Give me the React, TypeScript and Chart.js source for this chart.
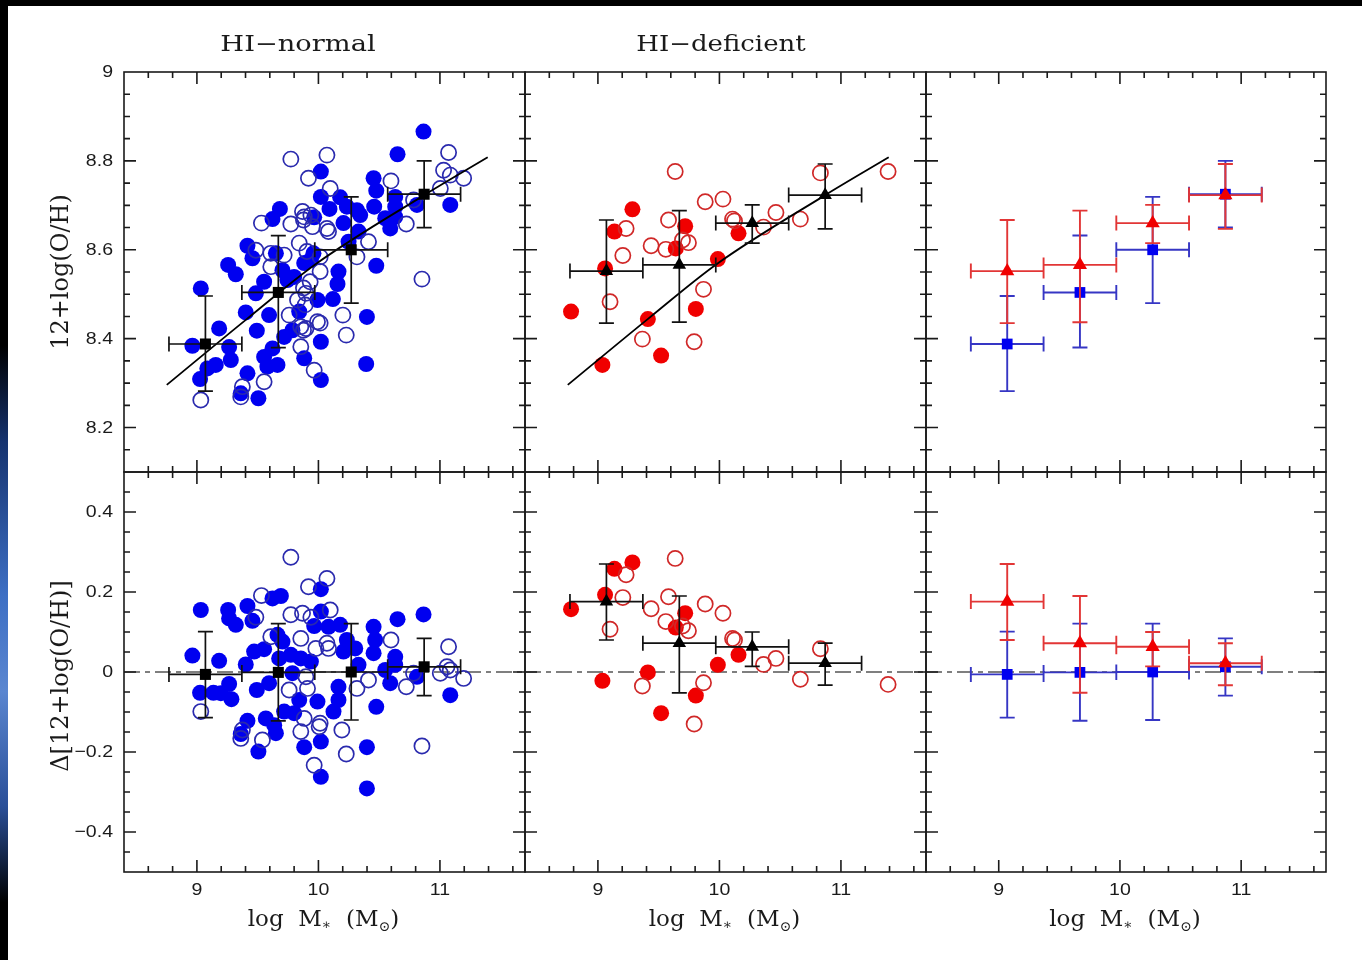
import React, { useEffect, useRef } from "react";
import { Chart, registerables } from "chart.js";

Chart.register(...registerables);

// ---------- page layout ----------
const PAGE_W = 1362;
const PAGE_H = 960;
const COL_EDGES = [124, 525, 926, 1326];
const ROW_EDGES = [72, 472, 872];

// ---------- axes ----------
const X_MIN = 8.4;
const X_MAX = 11.7;
const TOP_Y_MIN = 8.1;
const TOP_Y_MAX = 9.0;
const BOT_Y_MIN = -0.5;
const BOT_Y_MAX = 0.5;

const xTickValues = [9, 10, 11];
const xTickLabels = ["9", "10", "11"];
const topYTickValues = [8.2, 8.4, 8.6, 8.8, 9];
const topYTickLabels = ["8.2", "8.4", "8.6", "8.8", "9"];
const botYTickValues = [-0.4, -0.2, 0, 0.2, 0.4];
const botYTickLabels = ["−0.4", "−0.2", "0", "0.2", "0.4"];
const columnTitles = ["HI−normal", "HI−deficient"];
const topYTitle = "12+log(O/H)";
const botYTitle = "Δ[12+log(O/H)]";

// ---------- fit curve and zero line ----------
const fitX = [8.752, 9.41, 9.979, 10.871, 11.393];
const fitY = [8.296, 8.444, 8.568, 8.723, 8.808];
const zeroLineX = [8.4, 11.7];
const zeroLineY = [0, 0];

// ---------- binned means ----------
const binX = [9.07, 9.67, 10.27, 10.87];
const binXLo = [8.77, 9.37, 9.97, 10.57];
const binXHi = [9.37, 9.97, 10.57, 11.17];

const normalMeanTop = [8.388, 8.504, 8.6, 8.725];
const normalTopLo = [8.282, 8.38, 8.48, 8.65];
const normalTopHi = [8.496, 8.632, 8.719, 8.8];
const deficientMeanTop = [8.552, 8.566, 8.66, 8.723];
const deficientTopLo = [8.435, 8.437, 8.615, 8.647];
const deficientTopHi = [8.667, 8.688, 8.701, 8.793];

const normalMeanRes = [-0.006, -0.001, 0.0, 0.013];
const normalResLo = [-0.114, -0.122, -0.12, -0.059];
const normalResHi = [0.101, 0.121, 0.121, 0.084];
const deficientMeanRes = [0.176, 0.072, 0.063, 0.022];
const deficientResLo = [0.08, -0.052, 0.014, -0.033];
const deficientResHi = [0.27, 0.19, 0.1, 0.072];

// ---------- HI-normal galaxies (top) ----------
const normalFilledX = [
  10.02, 10.02, 9.683, 9.622, 9.965, 9.416, 9.457, 9.257, 9.32, 9.65, 9.704, 9.883, 9.938, 9.8, 9.745,
  9.553, 9.485, 9.032, 9.992, 9.402, 9.594, 9.842, 9.183, 9.493, 9.786, 9.718, 10.02, 8.963, 9.265, 9.086,
  9.155, 9.279, 9.622, 9.553, 9.58, 9.663, 9.883, 10.02, 9.026, 9.416, 9.361, 9.506, 10.865, 10.651, 10.454,
  10.476, 10.179, 10.091, 10.234, 10.317, 10.344, 10.459, 10.632, 10.632, 10.811, 11.085, 10.206, 10.55, 10.632, 10.591,
  10.33, 10.248, 9.959, 10.476, 10.165, 10.157, 10.119, 10.399, 10.393,
];
const normalFilledY = [
  8.776, 8.719, 8.692, 8.669, 8.673, 8.609, 8.581, 8.566, 8.545, 8.592, 8.554, 8.57, 8.577, 8.539, 8.532,
  8.528, 8.502, 8.513, 8.487, 8.459, 8.453, 8.461, 8.423, 8.418, 8.419, 8.404, 8.393, 8.384, 8.381, 8.333,
  8.341, 8.352, 8.378, 8.359, 8.337, 8.341, 8.356, 8.307, 8.309, 8.322, 8.277, 8.266, 8.866, 8.815, 8.761,
  8.733, 8.718, 8.692, 8.697, 8.689, 8.678, 8.697, 8.719, 8.697, 8.701, 8.701, 8.66, 8.671, 8.674, 8.648,
  8.641, 8.618, 8.592, 8.564, 8.551, 8.523, 8.489, 8.449, 8.343,
];
const normalOpenX = [
  9.773, 9.918, 9.531, 9.773, 9.883, 9.951, 9.842, 9.485, 9.608, 9.718, 9.608, 9.897, 9.828, 9.759, 9.855,
  9.897, 9.992, 9.855, 9.965, 9.553, 9.032, 9.374, 9.361, 9.869, 9.938, 9.877, 11.071, 10.07, 10.597, 11.03,
  11.085, 11.195, 11.003, 10.097, 10.783, 10.07, 10.083, 10.723, 10.412, 9.905, 10.014, 10.317, 10.014, 9.932, 9.877,
  10.852, 9.891, 10.201, 10.014, 10.229, 9.877,
];
const normalOpenY = [
  8.804, 8.761, 8.66, 8.658, 8.674, 8.652, 8.615, 8.599, 8.592, 8.588, 8.562, 8.502, 8.487, 8.453, 8.427,
  8.423, 8.438, 8.382, 8.329, 8.303, 8.262, 8.292, 8.269, 8.686, 8.678, 8.667, 8.819, 8.813, 8.755, 8.779,
  8.768, 8.761, 8.738, 8.738, 8.712, 8.648, 8.641, 8.658, 8.618, 8.596, 8.584, 8.584, 8.551, 8.528, 8.514,
  8.534, 8.476, 8.453, 8.435, 8.408, 8.419,
];

// ---------- HI-normal galaxies (residuals) ----------
const normalFilledResX = [
  10.02, 9.622, 9.691, 9.032, 9.257, 9.416, 9.265, 9.32, 9.457, 10.02, 9.965, 9.663, 9.704, 9.471, 9.553,
  8.963, 9.183, 9.402, 9.677, 9.773, 9.855, 9.938, 9.786, 9.026, 9.136, 9.197, 9.265, 9.284, 9.493, 9.594,
  9.842, 9.992, 9.416, 9.567, 9.636, 9.65, 9.718, 9.8, 9.361, 9.506, 9.883, 10.02, 10.02, 10.083, 10.179,
  10.454, 10.651, 10.865, 10.234, 10.303, 10.206, 10.467, 10.454, 10.33, 10.55, 10.632, 10.632, 10.811, 11.085, 10.591,
  10.165, 10.165, 10.124, 10.476, 10.399, 10.399,
];
const normalFilledResY = [
  0.207, 0.184, 0.19, 0.155, 0.155, 0.165, 0.134, 0.118, 0.128, 0.151, 0.115, 0.093, 0.076, 0.051, 0.057,
  0.041, 0.028, 0.019, 0.034, 0.043, 0.034, 0.026, -0.003, -0.052, -0.052, -0.053, -0.03, -0.068, -0.045, -0.028,
  -0.07, -0.074, -0.122, -0.116, -0.133, -0.153, -0.099, -0.103, -0.155, -0.199, -0.188, -0.174, -0.262, 0.113, 0.118,
  0.113, 0.132, 0.144, 0.08, 0.059, 0.051, 0.08, 0.047, 0.018, 0.005, 0.038, 0.018, -0.012, -0.058, -0.028,
  -0.037, -0.07, -0.099, -0.087, -0.188, -0.291,
];
const normalOpenResX = [
  9.773, 9.918, 9.531, 9.485, 9.773, 9.869, 9.938, 9.608, 9.855, 9.979, 9.897, 9.759, 9.91, 9.032, 9.883,
  9.374, 9.361, 9.539, 9.855, 10.006, 9.965, 10.07, 10.097, 10.07, 10.083, 10.597, 11.071, 10.783, 11.003, 11.058,
  11.085, 11.195, 10.412, 10.723, 10.317, 10.014, 10.193, 10.852, 10.229,
];
const normalOpenResY = [
  0.287, 0.213, 0.191, 0.137, 0.143, 0.147, 0.137, 0.088, 0.084, 0.059, -0.012, -0.045, -0.041, -0.099, -0.116,
  -0.145, -0.166, -0.17, -0.149, -0.137, -0.233, 0.234, 0.155, 0.072, 0.059, 0.08, 0.063, -0.003, -0.003, 0.013,
  0.005, -0.016, -0.02, -0.037, -0.041, -0.128, -0.145, -0.185, -0.205,
];

// ---------- HI-deficient galaxies (top) ----------
const deficientFilledX = [8.779, 9.037, 9.059, 9.136, 9.284, 9.411, 9.52, 9.641, 9.718, 9.806, 9.987, 10.157];
const deficientFilledY = [8.461, 8.341, 8.558, 8.641, 8.691, 8.444, 8.362, 8.603, 8.653, 8.467, 8.579, 8.637];
const deficientOpenX = [
  9.636, 9.232, 9.205, 9.1, 9.438, 9.559, 9.581, 9.696, 9.745, 9.883, 10.029, 9.869, 9.366, 9.792, 10.108,
  10.124, 10.363, 10.465, 10.666, 10.831, 11.388,
];
const deficientOpenY = [
  8.776, 8.648, 8.587, 8.483, 8.609, 8.601, 8.667, 8.622, 8.616, 8.708, 8.714, 8.511, 8.399, 8.393, 8.669,
  8.665, 8.651, 8.684, 8.669, 8.773, 8.776,
];

// ---------- HI-deficient galaxies (residuals) ----------
const deficientFilledResX = [8.779, 9.037, 9.059, 9.136, 9.284, 9.411, 9.52, 9.641, 9.718, 9.806, 9.987, 10.157];
const deficientFilledResY = [0.157, -0.022, 0.193, 0.258, 0.274, -0.001, -0.103, 0.111, 0.147, -0.059, 0.018, 0.043];
const deficientOpenResX = [
  9.636, 9.232, 9.205, 9.1, 9.438, 9.559, 9.581, 9.696, 9.745, 9.883, 10.029, 9.869, 9.366, 9.792, 10.108,
  10.124, 10.363, 10.465, 10.666, 10.831, 11.388,
];
const deficientOpenResY = [
  0.284, 0.243, 0.186, 0.107, 0.158, 0.126, 0.188, 0.115, 0.103, 0.17, 0.147, -0.027, -0.035, -0.13, 0.084,
  0.08, 0.019, 0.034, -0.018, 0.058, -0.031,
];

// ---------- styles ----------
const BLUE_FILL = "#0000f0";
const BLUE_OPEN = "#2a2aae";
const RED_FILL = "#f00000";
const RED_OPEN = "#d02828";
const BLUE_BAR = "#3636c4";
const RED_BAR = "#e23636";
const INK = "#1a1a1a";
const SANS = "'Liberation Sans', Arial, Helvetica, sans-serif";
const SERIF = "'DejaVu Serif', 'Liberation Serif', serif";

const pts = (xs: number[], ys: number[]) => xs.map((x, i) => ({ x, y: ys[i] }));

function filledDs(xs: number[], ys: number[], color: string) {
  return {
    data: pts(xs, ys),
    pointRadius: 8,
    pointBackgroundColor: color,
    pointBorderColor: color,
    pointBorderWidth: 0,
    order: 4,
  };
}
function openDs(xs: number[], ys: number[], color: string) {
  return {
    data: pts(xs, ys),
    pointRadius: 7.6,
    pointBackgroundColor: "rgba(0,0,0,0)",
    pointBorderColor: color,
    pointBorderWidth: 1.7,
    order: 3,
  };
}
function lineDs(xs: number[], ys: number[], color: string, dash: number[] | null, order: number, width: number) {
  return {
    data: pts(xs, ys),
    showLine: true,
    pointRadius: 0,
    borderColor: color,
    borderWidth: width,
    borderDash: dash || [],
    cubicInterpolationMode: "monotone",
    fill: false,
    order,
  };
}
function meanDs(
  ys: number[], lo: number[], hi: number[], style: string, color: string, barColor: string,
  barWidth: number, radius: number, order: number
) {
  return {
    data: pts(binX, ys),
    pointStyle: style,
    pointRadius: radius,
    pointBackgroundColor: color,
    pointBorderColor: color,
    pointBorderWidth: 0,
    order,
    errorBars: { x: binX, y: ys, xLo: binXLo, xHi: binXHi, yLo: lo, yHi: hi, color: barColor, width: barWidth },
  };
}

function panelDatasets(col: number, row: number): any[] {
  if (row === 0) {
    if (col === 0)
      return [
        filledDs(normalFilledX, normalFilledY, BLUE_FILL),
        openDs(normalOpenX, normalOpenY, BLUE_OPEN),
        lineDs(fitX, fitY, "#000", null, 2, 1.8),
        meanDs(normalMeanTop, normalTopLo, normalTopHi, "rect", "#000", "#111", 1.7, 7.8, 0),
      ];
    if (col === 1)
      return [
        filledDs(deficientFilledX, deficientFilledY, RED_FILL),
        openDs(deficientOpenX, deficientOpenY, RED_OPEN),
        lineDs(fitX, fitY, "#000", null, 2, 1.8),
        meanDs(deficientMeanTop, deficientTopLo, deficientTopHi, "triangle", "#000", "#111", 1.7, 7.8, 0),
      ];
    return [
      meanDs(normalMeanTop, normalTopLo, normalTopHi, "rect", BLUE_FILL, BLUE_BAR, 1.9, 7.6, 1),
      meanDs(deficientMeanTop, deficientTopLo, deficientTopHi, "triangle", RED_FILL, RED_BAR, 1.9, 8.2, 0),
    ];
  }
  const zero = lineDs(zeroLineX, zeroLineY, "#555", [16, 5, 5, 5], 5, 1.6);
  if (col === 0)
    return [
      zero,
      filledDs(normalFilledResX, normalFilledResY, BLUE_FILL),
      openDs(normalOpenResX, normalOpenResY, BLUE_OPEN),
      meanDs(normalMeanRes, normalResLo, normalResHi, "rect", "#000", "#111", 1.7, 7.8, 0),
    ];
  if (col === 1)
    return [
      zero,
      filledDs(deficientFilledResX, deficientFilledResY, RED_FILL),
      openDs(deficientOpenResX, deficientOpenResY, RED_OPEN),
      meanDs(deficientMeanRes, deficientResLo, deficientResHi, "triangle", "#000", "#111", 1.7, 7.8, 0),
    ];
  return [
    zero,
    meanDs(normalMeanRes, normalResLo, normalResHi, "rect", BLUE_FILL, BLUE_BAR, 1.9, 7.6, 1),
    meanDs(deficientMeanRes, deficientResLo, deficientResHi, "triangle", RED_FILL, RED_BAR, 1.9, 8.2, 0),
  ];
}

// ---------- drawing helpers ----------
function stretchText(
  ctx: CanvasRenderingContext2D, text: string, x: number, y: number,
  align: CanvasTextAlign, font: string, sx: number
) {
  ctx.save();
  ctx.font = font;
  ctx.fillStyle = INK;
  ctx.textAlign = align;
  ctx.textBaseline = "middle";
  ctx.translate(x, y);
  ctx.scale(sx, 1);
  ctx.fillText(text, 0, 0);
  ctx.restore();
}

function stepValues(min: number, max: number, step: number) {
  const out: number[] = [];
  const i0 = Math.ceil(min / step - 1e-9);
  const i1 = Math.floor(max / step + 1e-9);
  for (let i = i0; i <= i1; i++) out.push(Math.round(i * step * 1e6) / 1e6);
  return out;
}
const isMultiple = (v: number, step: number) => Math.abs(v / step - Math.round(v / step)) < 1e-6;

function drawErrorBars(chart: any, eb: any) {
  const { ctx } = chart;
  const xs = chart.scales.x;
  const ys = chart.scales.y;
  const cap = 7.5;
  ctx.save();
  ctx.strokeStyle = eb.color;
  ctx.lineWidth = eb.width;
  ctx.beginPath();
  for (let i = 0; i < eb.x.length; i++) {
    const px = xs.getPixelForValue(eb.x[i]);
    const py = ys.getPixelForValue(eb.y[i]);
    const pLo = ys.getPixelForValue(eb.yLo[i]);
    const pHi = ys.getPixelForValue(eb.yHi[i]);
    const qLo = xs.getPixelForValue(eb.xLo[i]);
    const qHi = xs.getPixelForValue(eb.xHi[i]);
    ctx.moveTo(px, pLo); ctx.lineTo(px, pHi);
    ctx.moveTo(px - cap, pLo); ctx.lineTo(px + cap, pLo);
    ctx.moveTo(px - cap, pHi); ctx.lineTo(px + cap, pHi);
    ctx.moveTo(qLo, py); ctx.lineTo(qHi, py);
    ctx.moveTo(qLo, py - cap); ctx.lineTo(qLo, py + cap);
    ctx.moveTo(qHi, py - cap); ctx.lineTo(qHi, py + cap);
  }
  ctx.stroke();
  ctx.restore();
}

function drawXTitle(ctx: CanvasRenderingContext2D, cx: number, cy: number) {
  const big = `23px ${SERIF}`;
  const small = `14px ${SERIF}`;
  const sx = 1.0;
  const pieces = [
    { t: "log  M", f: big, dy: 0 },
    { t: "∗", f: small, dy: 5 },
    { t: "  (M", f: big, dy: 0 },
    { t: "⊙", f: small, dy: 7 },
    { t: ")", f: big, dy: 0 },
  ];
  ctx.save();
  let total = 0;
  const widths = pieces.map((p) => {
    ctx.font = p.f;
    const w = ctx.measureText(p.t).width * sx;
    total += w;
    return w;
  });
  let x = cx - total / 2;
  pieces.forEach((p, i) => {
    stretchText(ctx, p.t, x, cy + p.dy, "left", p.f, sx);
    x += widths[i];
  });
  ctx.restore();
}

function makeDecor(col: number, row: number) {
  return {
    id: `decor_${col}_${row}`,
    beforeDatasetDraw(chart: any, args: any) {
      const ds = chart.data.datasets[args.index];
      if (ds && ds.errorBars) drawErrorBars(chart, ds.errorBars);
    },
    afterDraw(chart: any) {
      const { ctx, chartArea: a } = chart;
      const xs = chart.scales.x;
      const ys = chart.scales.y;
      const yMin = row === 0 ? TOP_Y_MIN : BOT_Y_MIN;
      const yMax = row === 0 ? TOP_Y_MAX : BOT_Y_MAX;
      ctx.save();
      ctx.strokeStyle = INK;
      ctx.lineWidth = 1.6;
      ctx.strokeRect(a.left, a.top, a.right - a.left, a.bottom - a.top);
      ctx.beginPath();
      // x ticks (minor 0.2, major 1)
      for (const v of stepValues(X_MIN, X_MAX, 0.2)) {
        const px = xs.getPixelForValue(v);
        if (px <= a.left + 1 || px >= a.right - 1) continue;
        const len = isMultiple(v, 1) ? 12 : 6;
        ctx.moveTo(px, a.bottom); ctx.lineTo(px, a.bottom - len);
        ctx.moveTo(px, a.top); ctx.lineTo(px, a.top + len);
      }
      // y ticks (minor 0.05, major 0.2)
      for (const v of stepValues(yMin, yMax, 0.05)) {
        const py = ys.getPixelForValue(v);
        if (py <= a.top + 1 || py >= a.bottom - 1) continue;
        const len = isMultiple(v, 0.2) ? 12 : 6;
        ctx.moveTo(a.left, py); ctx.lineTo(a.left + len, py);
        ctx.moveTo(a.right, py); ctx.lineTo(a.right - len, py);
      }
      ctx.stroke();

      const tickFont = `17px ${SANS}`;
      if (col === 0) {
        const vals = row === 0 ? topYTickValues : botYTickValues;
        const labs = row === 0 ? topYTickLabels : botYTickLabels;
        vals.forEach((v, i) =>
          stretchText(ctx, labs[i], a.left - 11, ys.getPixelForValue(v) + 0.5, "right", tickFont, 1.15)
        );
        ctx.save();
        ctx.font = `24px ${SERIF}`;
        ctx.fillStyle = INK;
        ctx.textAlign = "center";
        ctx.textBaseline = "middle";
        ctx.translate(62, (a.top + a.bottom) / 2 + (row === 0 ? 0 : 4));
        ctx.rotate(-Math.PI / 2);
        ctx.fillText(row === 0 ? topYTitle : botYTitle, 0, 0);
        ctx.restore();
      }
      if (row === 1) {
        xTickValues.forEach((v, i) =>
          stretchText(ctx, xTickLabels[i], xs.getPixelForValue(v), a.bottom + 18, "center", tickFont, 1.15)
        );
        drawXTitle(ctx, (a.left + a.right) / 2 - 1, a.bottom + 48);
      }
      if (row === 0 && col < 2) {
        const titleX = col === 0 ? 298 : 721;
        stretchText(ctx, columnTitles[col], titleX, 45, "center", `22px ${SERIF}`, col === 0 ? 1.24 : 1.18);
      }
      ctx.restore();
    },
  };
}

function Panel({ col, row }: { col: number; row: number }) {
  const ref = useRef<HTMLCanvasElement | null>(null);
  useEffect(() => {
    if (!ref.current) return;
    const chart = new Chart(ref.current, {
      type: "scatter",
      data: { datasets: panelDatasets(col, row) as any },
      options: {
        responsive: false,
        animation: false,
        devicePixelRatio: 1,
        events: [],
        layout: {
          autoPadding: false,
          padding: {
            left: COL_EDGES[col],
            right: PAGE_W - COL_EDGES[col + 1],
            top: ROW_EDGES[row],
            bottom: PAGE_H - ROW_EDGES[row + 1],
          },
        },
        plugins: { legend: { display: false }, tooltip: { enabled: false }, title: { display: false } },
        scales: {
          x: { type: "linear", min: X_MIN, max: X_MAX, display: false },
          y: {
            type: "linear",
            min: row === 0 ? TOP_Y_MIN : BOT_Y_MIN,
            max: row === 0 ? TOP_Y_MAX : BOT_Y_MAX,
            display: false,
          },
        },
      } as any,
      plugins: [makeDecor(col, row)],
    });
    return () => chart.destroy();
  }, [col, row]);
  return (
    <canvas
      ref={ref}
      width={PAGE_W}
      height={PAGE_H}
      style={{ position: "absolute", left: 0, top: 0, width: PAGE_W, height: PAGE_H, display: "block" }}
    />
  );
}

export default function App() {
  const panels = [];
  for (let r = 0; r < 2; r++) for (let c = 0; c < 3; c++) panels.push(<Panel key={`${c}-${r}`} col={c} row={r} />);
  return (
    <div style={{ position: "absolute", left: 0, top: 0, width: PAGE_W, height: PAGE_H, background: "#000", overflow: "hidden" }}>
      <div
        style={{
          position: "absolute", left: 0, top: 0, width: 8, height: PAGE_H,
          background: "linear-gradient(to bottom, #000 0%, #000 36%, #16336f 46%, #3d6fc4 62%, #5a86d0 72%, #2a4f98 84%, #000 94%, #000 100%)",
        }}
      />
      <div style={{ position: "absolute", left: 8, top: 6, width: PAGE_W - 8, height: PAGE_H - 6, background: "#fff" }} />
      {panels}
    </div>
  );
}
